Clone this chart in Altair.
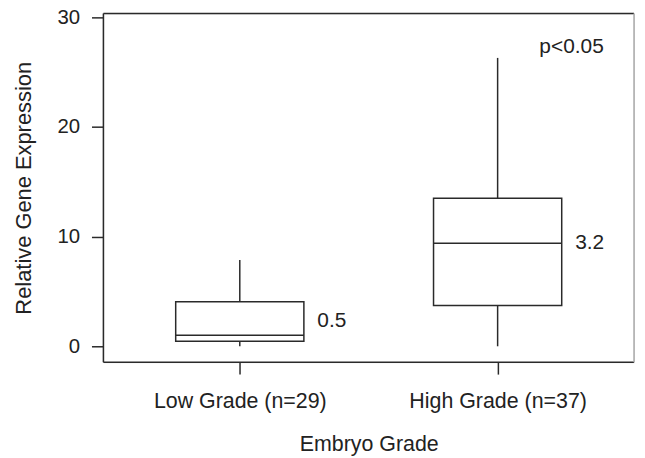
import altair as alt
import pandas as pd

groups = ["Low Grade (n=29)", "High Grade (n=37)"]
whisker_low = [0.0, 0.0]
q1 = [0.45, 3.73]
median = [1.0, 9.4]
q3 = [4.07, 13.5]
whisker_high = [7.86, 26.3]
fold_labels = ["0.5", "3.2"]
fold_label_y = [2.3, 9.4]
p_text = ["p<0.05"]
p_group = ["High Grade (n=37)"]
p_text_y = [27.3]
y_ticks = [0, 10, 20, 30]

W, H = 534, 351
BOX = 129
LINE = "#2a2a2a"
FONT = "Liberation Sans"

df = pd.DataFrame({
    "group": groups, "lo": whisker_low, "q1": q1, "med": median,
    "q3": q3, "hi": whisker_high, "lab": fold_labels, "laby": fold_label_y,
})
pdf = pd.DataFrame({"group": p_group, "txt": p_text, "y": p_text_y})

xscale = alt.Scale(type="point", padding=0.529, domain=groups)
yscale = alt.Scale(domain=[-1.45, 30.36], nice=False, zero=False)

x_enc = alt.X("group:N", scale=xscale, sort=groups,
              axis=alt.Axis(title="Embryo Grade", domain=False, ticks=True,
                            tickSize=12, tickWidth=1.5, tickColor=LINE,
                            labelFont=FONT, labelFontSize=21.5,
                            labelColor="#222", labelPadding=17, labelAngle=0,
                            titleFont=FONT, titleFontSize=21.5,
                            titleFontWeight="normal", titleColor="#222",
                            titlePadding=21, grid=False))
y_axis = alt.Axis(title="Relative Gene Expression", values=y_ticks, domain=False,
                  tickSize=12, tickWidth=1.5, tickColor=LINE,
                  labelFont=FONT, labelFontSize=20.5, labelColor="#222",
                  labelPadding=12, titleFont=FONT, titleFontSize=22,
                  titleFontWeight="normal", titleColor="#222", titlePadding=22,
                  grid=False)

base = alt.Chart(df)

whisk_lo = base.mark_rule(color=LINE, strokeWidth=1.5).encode(
    x=x_enc, y=alt.Y("lo:Q", scale=yscale, axis=y_axis), y2="q1:Q")
whisk_hi = base.mark_rule(color=LINE, strokeWidth=1.5).encode(
    x=alt.X("group:N", scale=xscale, sort=groups), y=alt.Y("q3:Q", scale=yscale), y2="hi:Q")
box = base.mark_bar(size=BOX, fill="white", stroke=LINE, strokeWidth=1.5).encode(
    x=alt.X("group:N", scale=xscale, sort=groups), y=alt.Y("q1:Q", scale=yscale), y2="q3:Q")
med = base.mark_tick(size=BOX, thickness=1.5, color=LINE, opacity=1,
                     orient="horizontal").encode(
    x=alt.X("group:N", scale=xscale, sort=groups), y=alt.Y("med:Q", scale=yscale))
labs = base.mark_text(align="left", baseline="middle", dx=78, font=FONT,
                      fontSize=21, color="#222").encode(
    x=alt.X("group:N", scale=xscale, sort=groups), y=alt.Y("laby:Q", scale=yscale), text="lab:N")
ptxt = alt.Chart(pdf).mark_text(align="left", baseline="middle", dx=42,
                                font=FONT, fontSize=21, color="#222").encode(
    x=alt.X("group:N", scale=xscale, sort=groups), y=alt.Y("y:Q", scale=yscale), text="txt:N")

one = pd.DataFrame({"a": [0]})
frame_left = alt.Chart(one).mark_rule(color=LINE, strokeWidth=1.5).encode(
    x=alt.value(0), y=alt.value(0), y2=alt.value(H))
frame_top = alt.Chart(one).mark_rule(color=LINE, strokeWidth=1.5).encode(
    x=alt.value(0), x2=alt.value(W), y=alt.value(0))
frame_bottom = alt.Chart(one).mark_rule(color=LINE, strokeWidth=1.5).encode(
    x=alt.value(0), x2=alt.value(W), y=alt.value(H))
frame_right = alt.Chart(one).mark_rule(color="#aaaaaa", strokeWidth=1.5).encode(
    x=alt.value(W), y=alt.value(0), y2=alt.value(H))

chart = alt.layer(
    whisk_lo, whisk_hi, box, med, labs, ptxt,
    frame_left, frame_top, frame_bottom, frame_right,
).properties(
    width=W, height=H,
    autosize=alt.AutoSizeParams(type="none"),
    padding={"left": 96, "top": 4, "right": 3, "bottom": 95},
).configure_view(strokeWidth=0).configure(background="white")

chart.save("out.html", embed_options={"renderer": "svg", "actions": False})
